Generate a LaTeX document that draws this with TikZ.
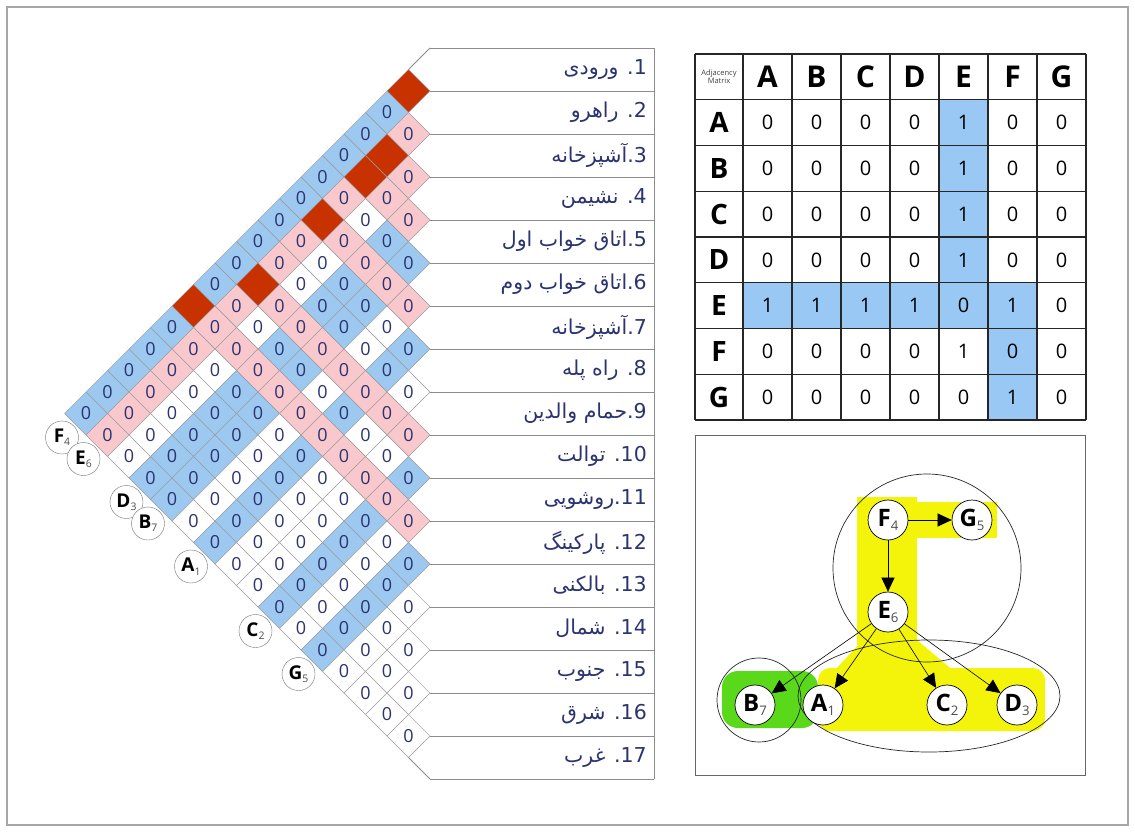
\documentclass[tikz,border=0pt]{standalone}
\usepackage{fontspec}
\setmainfont{Open Sans}
\newfontfamily\arabicfont[Script=Arabic]{DejaVu Sans}
\TeXXeTstate=1
\usetikzlibrary{arrows.meta,shapes.geometric}
\definecolor{chartBlue}{HTML}{9DC8F0}
\definecolor{chartPink}{HTML}{F8C8CD}
\definecolor{chartRed}{HTML}{C83200}
\definecolor{chartNavy}{HTML}{2B3370}
\definecolor{matBlue}{HTML}{99C8F5}
\definecolor{hlYellow}{HTML}{F4F40A}
\definecolor{hlGreen}{HTML}{5AD91A}
\newcommand{\sublab}[2]{{\bfseries #1}{\color{black!70}\raisebox{-0.18em}{\scalebox{0.55}{#2}}}}
\tikzset{
  cellbox/.style={
    diamond,
    draw=black!40,
    line width=0.5pt,
    minimum width=43pt,
    minimum height=43pt,
    inner sep=0pt,
    text=chartNavy,
    font=\fontsize{18}{18}\selectfont
  },
  boxline/.style={draw=black!45, line width=0.8pt},
  rowlabel/.style={
    anchor=east,
    inner sep=0pt,
    text=chartNavy,
    font=\arabicfont\fontsize{20.5}{20.5}\selectfont
  },
  tag/.style={
    circle,
    draw=black!55,
    fill=white,
    minimum size=33pt,
    inner sep=0pt,
    font=\fontsize{19}{19}\selectfont
  },
  mcell/.style={inner sep=0pt, font=\fontsize{20}{20}\selectfont},
  mhead/.style={inner sep=0pt, font=\bfseries\fontsize{30}{30}\selectfont},
  mside/.style={inner sep=0pt, font=\bfseries\fontsize{28}{28}\selectfont},
  mgrid/.style={draw=black!85, line width=1.1pt},
  gnode/.style={
    circle,
    draw=black,
    fill=white,
    line width=0.7pt,
    minimum size=40pt,
    inner sep=0pt,
    font=\fontsize{24}{24}\selectfont
  },
  group/.style={draw=black!85, line width=0.7pt},
  garrow/.style={-{Triangle[length=14pt,width=13pt]}, line width=0.6pt, draw=black}
}
\begin{document}
\begin{tikzpicture}[x=1pt,y=-1pt]
  \useasboundingbox (0,0) rectangle (1135,832);
  \draw[black!35, line width=2pt] (7,7) rectangle (1128,825);

  % triangular chart
  \foreach \i in {1,...,16}{
    \pgfmathtruncatemacro{\jfirst}{\i+1}
    \foreach \j in {\jfirst,...,17}{
      \pgfmathtruncatemacro{\isred}{((\i==1)&&((\j==2)||(\j==12)))||((\i==2)&&((\j==4)||(\j==5)||(\j==7)||(\j==10)))}
      \pgfmathtruncatemacro{\ispink}{(\i==2)||((\i>2)&&((\j==4)||(\j==5)||(\j==7)||(\j==10)||(\j==12)))}
      \pgfmathtruncatemacro{\isblue}{(\i==1)||(\i==4)||(\i==5)||(\i==7)||(\i==10)||(\i==12)}
      \ifnum\isred=1 \def\cellfill{chartRed}\else
        \ifnum\ispink=1 \def\cellfill{chartPink}\else
          \ifnum\isblue=1 \def\cellfill{chartBlue}\else \def\cellfill{white}\fi
        \fi
      \fi
      \node[cellbox, fill=\cellfill] (c-\i-\j) at ({430-21.5*(\j-\i)},{26.5+21.5*(\i+\j)}) {\ifnum\isred=1 \else 0\fi};
    }
  }

  % room list
  \foreach \k in {0,...,17}
    \draw[boxline] (430,{48+43*\k}) -- (654,{48+43*\k});
  \draw[boxline] (654,48) -- (654,779);
  \draw[boxline] (430,48) -- (408.5,69.5);
  \draw[boxline] (408.5,757.5) -- (430,779);
  \foreach \n/\txt in {1/. ورودی, 2/. راهرو, 3/.آشپزخانه, 4/. نشیمن, 5/.اتاق خواب اول, 6/.اتاق خواب دوم,
      7/.آشپزخانه, 8/. راه پله, 9/.حمام والدین, 10/. توالت, 11/.روشویی, 12/. پارکینگ,
      13/. بالکنی, 14/. شمال, 15/. جنوب, 16/.  شرق, 17/. غرب}
    \node[rowlabel] (room\n) at (647,{26.5+43*\n}) {\beginR\beginL\n\endL\txt\endR};

  % tags along the lower edge
  \foreach \r/\nm/\sb in {1/F/4, 2/E/6, 4/D/3, 5/B/7, 7/A/1, 10/C/2, 12/G/5}
    \node[tag] (tag\nm) at ({62+21.5*(\r-1)},{437.5+21.5*(\r-1)}) {\sublab{\nm}{\sb}};

  % adjacency matrix
  \fill[matBlue] (939,99.75) rectangle (988,282.75);
  \fill[matBlue] (743,282.75) rectangle (1037,328.5);
  \fill[matBlue] (988,328.5) rectangle (1037,420);
  \foreach \x in {695,743,792,841,890,939,988,1037,1086}
    \draw[mgrid] (\x,54) -- (\x,420);
  \foreach \k in {0,...,8}
    \draw[mgrid] (695,{54+45.75*\k}) -- (1086,{54+45.75*\k});
  \node[inner sep=0pt, align=center, text=black!75, font=\fontsize{7.5}{7.5}\selectfont] (mtitle) at (719,76.9) {Adjacency\\Matrix};
  \foreach \nm [count=\c] in {A,B,C,D,E,F,G}
    \node[mhead] (h\nm) at ({767.5+49*(\c-1)},76.9) {\nm};
  \foreach \nm/\vals [count=\r] in {A/{0,0,0,0,1,0,0}, B/{0,0,0,0,1,0,0}, C/{0,0,0,0,1,0,0},
      D/{0,0,0,0,1,0,0}, E/{1,1,1,1,0,1,0}, F/{0,0,0,0,1,0,0}, G/{0,0,0,0,0,1,0}}{
    \node[mside] (s\nm) at (719,{76.9+45.75*\r}) {\nm};
    \foreach \v [count=\c] in \vals
      \node[mcell] (m-\r-\c) at ({767.5+49*(\c-1)},{76.9+45.75*\r}) {\v};
  }

  % graph
  \draw[black!60, line width=1pt] (695,435) rectangle (1085,775);
  \fill[hlYellow] (857,497) rectangle (917,645);
  \fill[hlYellow] (888,502) rectangle (997,538);
  \fill[hlYellow] (863,640) -- (917,640) -- (955,672) -- (833,672) -- cycle;
  \fill[hlYellow, rounded corners=12pt] (818,668) rectangle (1045,731);
  \fill[hlGreen, rounded corners=16pt] (722,671) rectangle (818,728);
  \draw[group] (927,568) circle[radius=94pt];
  \draw[group] (759,700) circle[radius=42pt];
  \draw[group] (929,696) ellipse[x radius=131pt, y radius=56pt];

  \node[gnode] (gF) at (888,520) {\sublab{F}{4}};
  \node[gnode] (gG) at (972,520) {\sublab{G}{5}};
  \node[gnode] (gE) at (888,612) {\sublab{E}{6}};
  \node[gnode] (gB) at (755,705) {\sublab{B}{7}};
  \node[gnode] (gA) at (823,705) {\sublab{A}{1}};
  \node[gnode] (gC) at (947,705) {\sublab{C}{2}};
  \node[gnode] (gD) at (1017,705) {\sublab{D}{3}};

  \draw[garrow] (gF) -- (gG);
  \draw[garrow] (gF) -- (gE);
  \draw[garrow] (gE) -- (gB);
  \draw[garrow] (gE) -- (gA);
  \draw[garrow] (gE) -- (gC);
  \draw[garrow] (gE) -- (gD);
\end{tikzpicture}
\end{document}
